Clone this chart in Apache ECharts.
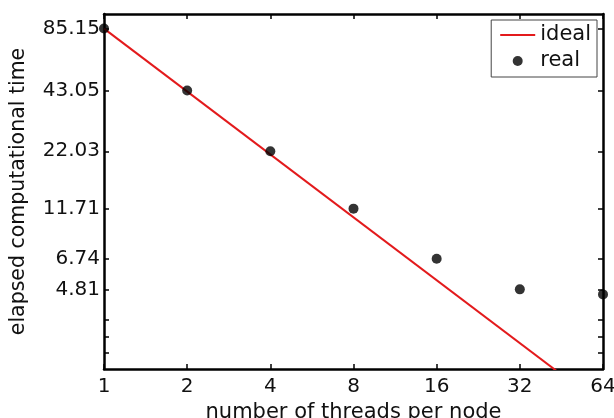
<!DOCTYPE html>
<html><head><meta charset="utf-8">
<script src="https://cdn.jsdelivr.net/npm/echarts@6/dist/echarts.min.js"></script>
<style>html,body{margin:0;padding:0;background:#fff}#c{width:614px;height:418px}</style>
</head><body><div id="c"></div>
<script>
const threads = [1, 2, 4, 8, 16, 32, 64];
const realTime = [85.15, 43.05, 22.03, 11.71, 6.74, 4.81, 4.55];
const idealThreads = [1, 64];
const idealTime = [85.15, 1.33];
const yTickValues = [4.81, 6.74, 11.71, 22.03, 43.05, 85.15];
const yExtraTicks = [2.38, 2.84, 3.43];
const xTickValues = [1, 2, 4, 8, 16, 32, 64];
const yMin = 2, yMax = 100;

const FONT = 'DejaVu Sans';
const chart = echarts.init(document.getElementById('c'));
const axisLine = {show: true, lineStyle: {color: '#000', width: 2.5}};
const tick = {show: true, inside: true, length: 5, lineStyle: {color: '#000', width: 1.5}};
const yAllTicks = yExtraTicks.concat(yTickValues);
chart.setOption({
  animation: false,
  backgroundColor: '#fff',
  grid: {left: 104, right: 11, top: 14, bottom: 49, containLabel: false, outerBoundsMode: 'none'},
  legend: {
    orient: 'vertical', right: 17, top: 20,
    backgroundColor: '#fff', borderColor: '#444', borderWidth: 1, borderRadius: 0,
    padding: [3, 6, 4, 9], itemGap: 2, itemWidth: 35, itemHeight: 10,
    textStyle: {fontFamily: FONT, fontSize: 21, lineHeight: 24, color: '#111'},
    data: [{name: 'ideal', icon: 'path://M0,0L35,0L35,2L0,2Z'}, {name: 'real', icon: 'circle'}]
  },
  xAxis: [{
    type: 'log', logBase: 2, min: 1, max: 64,
    name: 'number of threads per node', nameLocation: 'middle', nameGap: 24,
    nameTextStyle: {fontFamily: FONT, fontSize: 21, color: '#111'},
    axisLine: axisLine, axisTick: Object.assign({customValues: xTickValues}, tick),
    axisLabel: {fontFamily: FONT, fontSize: 20, color: '#111', margin: 8, customValues: xTickValues, formatter: v => String(v)},
    splitLine: {show: false}, minorTick: {show: false}
  }, {
    type: 'log', logBase: 2, min: 1, max: 64, position: 'top',
    axisLine: axisLine, axisTick: Object.assign({customValues: xTickValues}, tick),
    axisLabel: {show: false}, splitLine: {show: false}
  }],
  yAxis: [{
    type: 'log', logBase: 10, min: yMin, max: yMax,
    name: 'elapsed computational time', nameLocation: 'middle', nameGap: 75,
    nameTextStyle: {fontFamily: FONT, fontSize: 20.5, color: '#111'},
    axisLine: axisLine, axisTick: Object.assign({customValues: yAllTicks}, tick),
    axisLabel: {fontFamily: FONT, fontSize: 20, color: '#111', margin: 4, customValues: yTickValues, formatter: v => v.toFixed(2)},
    splitLine: {show: false}
  }, {
    type: 'log', logBase: 10, min: yMin, max: yMax, position: 'right',
    axisLine: axisLine, axisTick: Object.assign({customValues: yAllTicks}, tick),
    axisLabel: {show: false}, splitLine: {show: false}
  }],
  series: [{
    name: 'ideal', type: 'line', symbol: 'none', clip: true,
    lineStyle: {color: '#e31a1c', width: 2},
    itemStyle: {color: '#e31a1c'},
    data: idealThreads.map((x, i) => [x, idealTime[i]]), z: 3
  }, {
    name: 'real', type: 'scatter', symbolSize: 10, clip: false,
    itemStyle: {color: '#000'},
    data: threads.map((x, i) => [x, realTime[i]]), z: 4
  }]
});
</script></body></html>
